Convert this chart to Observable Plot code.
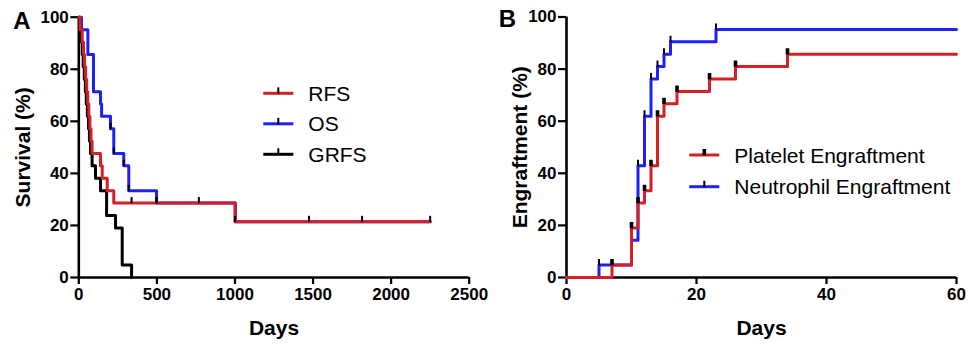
<!DOCTYPE html>
<html><head><meta charset="utf-8">
<script src="https://cdn.jsdelivr.net/npm/d3@7"></script>
<script src="https://cdn.jsdelivr.net/npm/@observablehq/plot@0.6"></script>
<style>
body{margin:0;background:#fff;}
#wrap{display:flex;width:969px;height:347px;background:#fff;}
#wrap svg{overflow:visible;}
</style></head><body><div id="wrap"></div>
<script>
// ---- Panel A data (days, survival %) ----
const rfsDays  = [0, 8, 22, 30, 37, 44, 50, 57, 64, 71, 78, 85, 139, 150, 182, 224, 1000, 2250];
const rfsSurv  = [100, 95.2, 90.5, 85.7, 81.0, 76.2, 71.4, 66.7, 61.9, 57.1, 52.4, 47.6, 42.9, 38.1, 33.3, 28.6, 21.4, 21.4];
const osDays   = [0, 17, 58, 94, 139, 146, 203, 224, 288, 320, 498, 1003, 2250];
const osSurv   = [100, 95.2, 85.7, 71.4, 66.7, 61.9, 57.1, 47.6, 42.9, 33.3, 28.6, 21.4, 21.4];
const grfsDays = [0, 5, 15, 22, 28, 35, 42, 48, 55, 62, 68, 75, 85, 107, 139, 178, 235, 278, 338];
const grfsSurv = [100, 95.2, 90.5, 85.7, 81.0, 76.2, 71.4, 66.7, 61.9, 57.1, 52.4, 47.6, 42.9, 38.1, 33.3, 23.8, 19.0, 4.8, 0];
// censor marks
const rfsCensDays = [338, 498, 769, 1000, 1474, 1814, 2250];
const rfsCensSurv = [28.6, 28.6, 28.6, 21.4, 21.4, 21.4, 21.4];
const osCensDays  = [203, 224, 288, 320, 498];
const osCensSurv  = [57.1, 47.6, 42.9, 33.3, 28.6];

// ---- Panel B data (days, engraftment %) ----
const neutDays = [0, 5, 10, 11, 12, 13, 14, 15, 16, 23, 60];
const neutVal  = [0, 4.8, 14.3, 42.9, 61.9, 76.2, 81.0, 85.7, 90.5, 95.2, 95.2];
const pltDays  = [0, 7, 10, 11, 12, 13, 14, 15, 17, 22, 26, 34, 60];
const pltVal   = [0, 4.8, 19.0, 28.6, 33.3, 42.9, 61.9, 66.7, 71.4, 76.2, 81.0, 85.7, 85.7];
const neutTickDays = [5, 11, 12, 13, 14, 15, 16, 23];
const neutTickVal  = [4.8, 42.9, 61.9, 76.2, 81.0, 85.7, 90.5, 95.2];
const pltTickDays  = [7, 10, 11, 12, 13, 14, 15, 17, 22, 26, 34];
const pltTickVal   = [4.8, 19.0, 28.6, 33.3, 42.9, 61.9, 66.7, 71.4, 76.2, 81.0, 85.7];

// ---- ticks & labels ----
const yTicks = [0, 20, 40, 60, 80, 100];
const xTicksA = [0, 500, 1000, 1500, 2000, 2500];
const xTicksB = [0, 20, 40, 60];
const seriesA = ["RFS", "OS", "GRFS"];
const seriesB = ["Platelet Engraftment", "Neutrophil Engraftment"];

const RED = "#d42026", BLUE = "#2020f2", BLACK = "#000";
const FONT = "'Liberation Sans', Arial, Helvetica, sans-serif";

const rows = (xs, ys) => xs.map((x, i) => ({x, y: ys[i]}));
const fmt = d => String(d);

function frameMarks(xTicks) {
  return [
    Plot.axisY({ticks: yTicks, tickFormat: fmt, tickSize: 8, tickPadding: 2, strokeWidth: 2.2}),
    Plot.axisX({ticks: xTicks, tickFormat: fmt, tickSize: 7, tickPadding: 3, strokeWidth: 2.2}),
    Plot.ruleX([0], {strokeWidth: 2.6}),
    Plot.ruleY([0], {strokeWidth: 2.6})
  ];
}
const stepLine = (data, color) => Plot.line(data, {x: "x", y: "y", curve: "step-after", stroke: color, strokeWidth: 3});
const censor = (data, w) => Plot.ruleX(data, {x: "x", y1: d => d.y - 0.3, y2: d => d.y + 2.1, stroke: BLACK, strokeWidth: w});

const style = {fontFamily: FONT, fontSize: "17px", fontWeight: "bold", color: "#000", background: "transparent", overflow: "visible"};

const plotA = Plot.plot({
  width: 484, height: 347, marginLeft: 78.3, marginRight: 15.3, marginTop: 16.7, marginBottom: 70,
  x: {domain: [0, 2500], label: null}, y: {domain: [0, 100], label: null},
  style,
  marks: [
    ...frameMarks(xTicksA),
    stepLine(rows(osDays, osSurv), BLUE),
    stepLine(rows(grfsDays, grfsSurv), BLACK),
    stepLine(rows(rfsDays, rfsSurv), RED),
    censor(rows(osCensDays, osCensSurv), 2),
    censor(rows(rfsCensDays, rfsCensSurv), 2),
    Plot.text(["Days"], {frameAnchor: "bottom", dy: 51, fontSize: 21, fontWeight: "bold", textAnchor: "middle", lineAnchor: "middle"}),
    Plot.text(["Survival (%)"], {frameAnchor: "left", dx: -56, rotate: -90, fontSize: 21, fontWeight: "bold", textAnchor: "middle", lineAnchor: "middle"}),
    Plot.text(["A"], {frameAnchor: "top-left", dx: -57, dy: 4, fontSize: 24, fontWeight: "bold", textAnchor: "middle", lineAnchor: "middle"})
  ]
});

const plotB = Plot.plot({
  width: 485, height: 347, marginLeft: 82, marginRight: 13, marginTop: 16.5, marginBottom: 70,
  x: {domain: [0, 60], label: null}, y: {domain: [0, 100], label: null},
  style,
  marks: [
    ...frameMarks(xTicksB),
    stepLine(rows(neutDays, neutVal), BLUE),
    stepLine(rows(pltDays, pltVal), RED),
    censor(rows(neutTickDays, neutTickVal), 2),
    censor(rows(pltTickDays, pltTickVal), 3.6),
    Plot.text(["Days"], {frameAnchor: "bottom", dy: 51, fontSize: 21, fontWeight: "bold", textAnchor: "middle", lineAnchor: "middle"}),
    Plot.text(["Engraftment (%)"], {frameAnchor: "left", dx: -46, rotate: -90, fontSize: 21, fontWeight: "bold", textAnchor: "middle", lineAnchor: "middle"}),
    Plot.text(["B"], {frameAnchor: "top-left", dx: -59, dy: 2, fontSize: 24, fontWeight: "bold", textAnchor: "middle", lineAnchor: "middle"})
  ]
});

const wrap = document.getElementById("wrap");
wrap.appendChild(plotA);
wrap.appendChild(plotB);

// ---- legends ----
function legend(svg, names, colors, tickW, x0, y0, gap) {
  const g = d3.select(svg).append("g")
    .attr("font-family", FONT).attr("font-size", 21).attr("font-weight", "normal").attr("text-anchor", "start");
  names.forEach((n, i) => {
    const y = y0 + i * gap;
    g.append("line").attr("x1", x0).attr("x2", x0 + 30).attr("y1", y).attr("y2", y).attr("stroke", colors[i]).attr("stroke-width", 3);
    g.append("line").attr("x1", x0 + 15).attr("x2", x0 + 15).attr("y1", y - 6).attr("y2", y + 0.5).attr("stroke", BLACK).attr("stroke-width", tickW[i]);
    g.append("text").attr("x", x0 + 45).attr("y", y + 7.6).attr("fill", "#000").attr("text-anchor", "start").text(n);
  });
}
legend(plotA, seriesA, [RED, BLUE, BLACK], [2, 2, 2], 263.3, 93.3, 30.5);
legend(plotB, seriesB, [RED, BLUE], [3.6, 2], 205.3, 155, 31.7);
</script>
</body></html>
